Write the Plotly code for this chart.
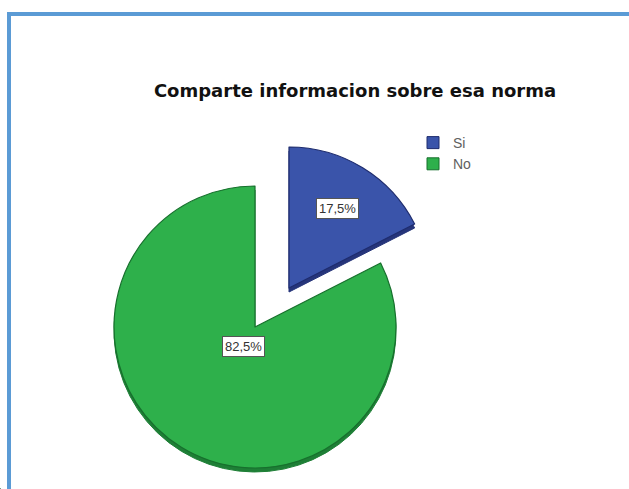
import math
import plotly.graph_objects as go

# Datos de la pregunta
categorias = ["Si", "No"]
porcentajes = [17.5, 82.5]
titulo = "Comparte informacion sobre esa norma"

# Estilo de cada categoría
colores = ["#3A54AA", "#2EB04B"]
colores_borde = ["#1E2C6E", "#17702D"]
colores_fondo = ["#26357A", "#1E7F36"]

W, H = 629, 489
R = 141                      # radio de la torta en px
centros = [(289, 288), (255, 327)]   # Si desplazado, No en su sitio
PROF = 4                     # grosor del efecto 3D
frac_etiqueta = [0.66, 0.16]
TRANSP = "rgba(0,0,0,0)"


def dominio(cx, cy, r=R):
    return dict(x=[(cx - r) / W, (cx + r) / W],
                y=[(H - cy - r) / H, (H - cy + r) / H])


def cuna(idx, cx, cy, relleno, borde, ancho):
    cols = [relleno if i == idx else TRANSP for i in range(len(categorias))]
    lineas = [borde if i == idx else TRANSP for i in range(len(categorias))]
    return go.Pie(
        values=porcentajes, labels=categorias, sort=False,
        direction="clockwise", rotation=0,
        marker=dict(colors=cols, line=dict(color=lineas, width=ancho)),
        textinfo="none", hoverinfo="skip", showlegend=False,
        domain=dominio(cx, cy),
    )


fig = go.Figure()

# Cada porción con su sombra inferior (efecto de grosor)
for i in [1, 0]:
    cx, cy = centros[i]
    fig.add_trace(cuna(i, cx, cy + PROF, colores_fondo[i], colores_fondo[i], 1))
    fig.add_trace(cuna(i, cx, cy, colores[i], colores_borde[i], 1.2))

# Traza que aporta la leyenda
fig.add_trace(go.Pie(
    values=porcentajes, labels=categorias, sort=False,
    marker=dict(colors=colores, line=dict(color=colores_borde, width=1)),
    textinfo="none", hoverinfo="skip", showlegend=True,
    domain=dict(x=[0, 0.0005], y=[0, 0.0005]),
))

# Etiquetas de porcentaje en cajas blancas, sobre la bisectriz de cada porción
total = sum(porcentajes)
acum = 0.0
anotaciones = []
for i, v in enumerate(porcentajes):
    medio = (acum + v / 2) / total * 2 * math.pi
    acum += v
    cx, cy = centros[i]
    px = cx + frac_etiqueta[i] * R * math.sin(medio)
    py = cy - frac_etiqueta[i] * R * math.cos(medio)
    anotaciones.append(dict(
        x=px / W, y=1 - py / H, xref="paper", yref="paper",
        xanchor="center", yanchor="middle",
        text=f"{v:.1f}%".replace(".", ","), showarrow=False,
        font=dict(family="Liberation Sans", size=13, color="#333333"),
        bgcolor="white", bordercolor="#555555", borderwidth=1, borderpad=2,
    ))

fig.update_layout(
    width=W, height=H,
    margin=dict(l=0, r=0, t=0, b=0),
    paper_bgcolor="white", plot_bgcolor="white",
    title=dict(text=titulo, x=355 / W, xanchor="center",
               y=1 - 91 / H, yanchor="middle",
               font=dict(family="DejaVu Sans", size=18, weight="bold",
                         color="#111111")),
    showlegend=True,
    legend=dict(x=413 / W, y=1 - 127 / H, xanchor="left", yanchor="top",
                font=dict(family="Liberation Sans", size=14, color="#606060"),
                bgcolor="rgba(0,0,0,0)", itemclick=False, itemdoubleclick=False),
    annotations=anotaciones,
    shapes=[
        dict(type="line", xref="paper", yref="paper",
             x0=9 / W, x1=9 / W, y0=0, y1=1 - 12 / H,
             line=dict(color="#5B9BD5", width=4)),
        dict(type="line", xref="paper", yref="paper",
             x0=7 / W, x1=1, y0=1 - 14 / H, y1=1 - 14 / H,
             line=dict(color="#5B9BD5", width=4)),
    ],
)

fig.write_html("out.html")
